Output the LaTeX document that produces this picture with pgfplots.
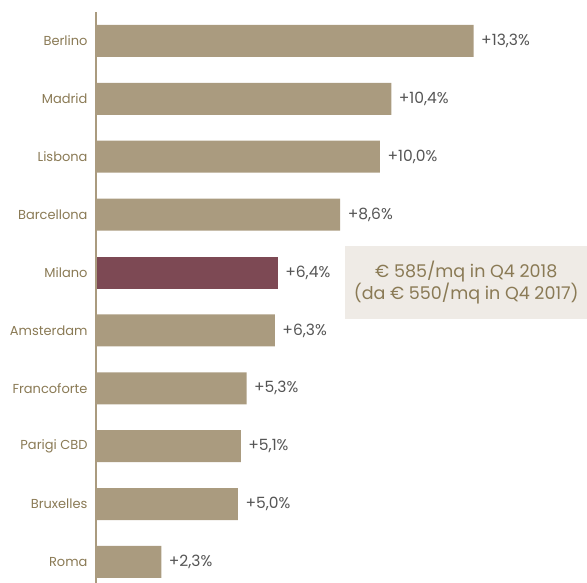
\documentclass[border=0pt]{standalone}
\usepackage{fontspec}
\setmainfont{Poppins}
\usepackage{pgfplots}
\pgfplotsset{compat=1.18}
\definecolor{barTan}{HTML}{AA9B7F}
\definecolor{barWine}{HTML}{7D4954}
\definecolor{catText}{HTML}{8A7A55}
\definecolor{valText}{HTML}{555555}
\definecolor{boxFill}{HTML}{EFEBE6}

\begin{document}
\begin{tikzpicture}[x=1pt,y=1pt]
\useasboundingbox (0,0) rectangle (587,583);
\begin{axis}[
  at={(96pt,0pt)}, anchor=south west,
  scale only axis,
  width=491pt, height=571pt,
  xmin=0, xmax=17.29,
  ymin=-0.363, ymax=9.5,
  xbar, bar width=32pt, bar shift=0pt,
  axis line style={draw=none},
  major tick length=0pt,
  xtick=\empty,
  ytick={0,...,9},
  yticklabels={Roma,Bruxelles,Parigi CBD,Francoforte,Amsterdam,Milano,Barcellona,Lisbona,Madrid,Berlino},
  yticklabel style={font=\fontsize{13}{15}\selectfont, text=catText, xshift=-5pt},
  /pgf/number format/assume math mode=true,
  point meta=x,
  nodes near coords={+\pgfmathprintnumber[fixed,zerofill,precision=1,use comma]{\pgfplotspointmeta}\%},
  nodes near coords style={font=\fontsize{15.5}{18}\selectfont, text=valText, anchor=west, xshift=4pt},
  clip=false,
]
\addplot[fill=barTan, draw=none] coordinates {
  (2.3,0) (5.0,1) (5.1,2) (5.3,3) (6.3,4) (8.6,6) (10.0,7) (10.4,8) (13.3,9)
};
\addplot[fill=barWine, draw=none] coordinates {(6.4,5)};
\draw[barTan, line width=2pt] (axis cs:0,-0.363) -- (axis cs:0,9.5);
\node[fill=boxFill, inner sep=0pt, minimum width=242pt, minimum height=73pt,
  anchor=north west, text=catText, align=center,
  font=\fontsize{17.5}{22}\selectfont]
  at (axis cs:8.77,5.46) {€ 585/mq in Q4 2018\\(da € 550/mq in Q4 2017)};
\end{axis}
\end{tikzpicture}
\end{document}
